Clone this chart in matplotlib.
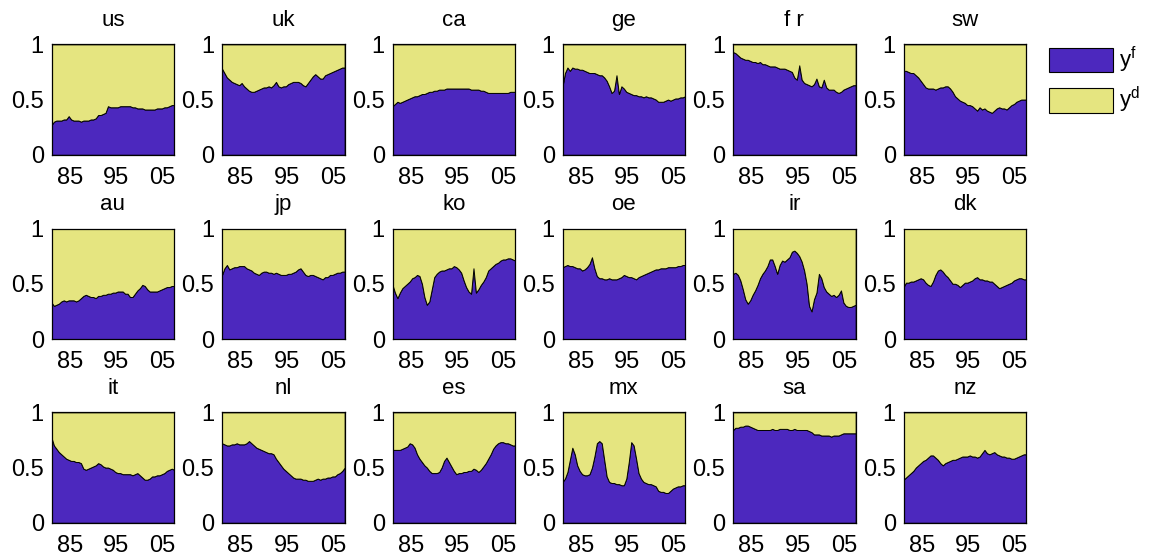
#!/usr/bin/env python3
"""
Foreign vs domestic shares (y^f / y^d) by country, stacked area panels.
"""
import matplotlib
matplotlib.use("Agg")
import matplotlib.pyplot as plt
from matplotlib.patches import Patch
import numpy as np

plt.rcParams["font.family"] = ["Liberation Sans", "DejaVu Sans"]
plt.rcParams["mathtext.fontset"] = "custom"
plt.rcParams["mathtext.rm"] = "Liberation Sans"

COL_F = "#4C28BE"
COL_D = "#E5E580"

# sample positions, 1981.0 .. 2007.5 (51 points)
YEARS = np.linspace(1981.0, 2007.5, 51)

COUNTRIES = ["us", "uk", "ca", "ge", "f r", "sw",
             "au", "jp", "ko", "oe", "ir", "dk",
             "it", "nl", "es", "mx", "sa", "nz"]

us = [.27, .30, .31, .31, .31, .32, .32, .35, .32, .31,
      .31, .31, .30, .31, .31, .31, .32, .32, .33, .36,
      .36, .37, .38, .44, .43, .43, .43, .43, .44, .44,
      .44, .44, .44, .43, .43, .42, .42, .42, .41, .41,
      .41, .41, .41, .42, .42, .42, .43, .43, .44, .45,
      .45]
uk = [.78, .74, .70, .68, .66, .65, .64, .63, .65, .62,
      .60, .58, .57, .57, .58, .59, .60, .61, .61, .62,
      .61, .63, .66, .62, .61, .62, .62, .64, .65, .66,
      .66, .66, .65, .63, .62, .65, .68, .71, .73, .71,
      .69, .69, .72, .73, .74, .75, .76, .77, .78, .79,
      .79]
ca = [.44, .46, .48, .47, .48, .49, .50, .51, .52, .53,
      .53, .54, .55, .55, .56, .57, .57, .58, .58, .59,
      .59, .59, .60, .60, .60, .60, .60, .60, .60, .60,
      .60, .60, .59, .59, .59, .59, .58, .58, .57, .56,
      .56, .56, .56, .56, .56, .56, .56, .56, .57, .57,
      .57]
ge = [.62, .74, .79, .76, .79, .78, .78, .77, .77, .76,
      .75, .74, .74, .74, .73, .72, .72, .70, .67, .62,
      .56, .58, .72, .55, .62, .60, .57, .56, .55, .54,
      .54, .53, .53, .52, .53, .52, .52, .51, .50, .48,
      .48, .48, .49, .50, .49, .50, .51, .51, .52, .52,
      .53]
fr = [.93, .92, .90, .88, .87, .86, .86, .85, .84, .84,
      .83, .84, .82, .82, .81, .80, .80, .80, .79, .78,
      .78, .78, .77, .76, .75, .70, .68, .81, .68, .65,
      .64, .63, .62, .64, .69, .62, .61, .68, .61, .59,
      .59, .59, .57, .56, .57, .59, .60, .61, .62, .63,
      .63]
sw = [.76, .76, .75, .74, .74, .72, .70, .67, .64, .61,
      .60, .60, .60, .59, .60, .61, .61, .62, .62, .60,
      .57, .53, .51, .49, .48, .47, .45, .45, .44, .42,
      .40, .43, .41, .42, .40, .39, .38, .40, .42, .43,
      .42, .42, .41, .43, .45, .46, .48, .49, .50, .50,
      .50]
au = [.33, .30, .31, .32, .34, .35, .34, .35, .35, .35,
      .34, .35, .37, .39, .40, .39, .38, .38, .37, .39,
      .39, .40, .40, .41, .41, .42, .42, .43, .43, .43,
      .41, .41, .38, .38, .41, .44, .46, .49, .48, .45,
      .43, .43, .43, .43, .44, .45, .46, .47, .47, .48,
      .48]
jp = [.58, .64, .67, .63, .64, .65, .65, .66, .66, .66,
      .64, .63, .62, .60, .59, .58, .60, .61, .61, .60,
      .60, .59, .60, .59, .58, .58, .58, .59, .59, .60,
      .61, .63, .64, .61, .58, .57, .58, .58, .57, .56,
      .55, .54, .56, .56, .58, .58, .59, .60, .60, .61,
      .61]
ko = [.49, .42, .37, .42, .46, .48, .50, .52, .55, .56,
      .58, .57, .50, .38, .31, .34, .45, .56, .59, .61,
      .62, .62, .63, .64, .64, .66, .65, .63, .60, .53,
      .47, .43, .41, .64, .42, .45, .49, .52, .56, .62,
      .64, .66, .68, .69, .71, .72, .72, .73, .73, .72,
      .71]
oe = [.65, .66, .67, .66, .66, .65, .64, .64, .62, .63,
      .65, .68, .74, .64, .57, .55, .55, .54, .54, .55,
      .54, .54, .54, .55, .56, .58, .57, .56, .56, .55,
      .54, .56, .57, .58, .59, .60, .61, .62, .63, .63,
      .64, .64, .64, .65, .65, .65, .65, .66, .66, .67,
      .67]
ir = [.59, .60, .58, .53, .45, .36, .32, .35, .40, .44,
      .49, .55, .59, .62, .66, .72, .72, .66, .59, .67,
      .71, .70, .72, .74, .79, .80, .78, .75, .70, .62,
      .50, .30, .25, .36, .42, .59, .55, .47, .43, .41,
      .39, .40, .38, .40, .44, .33, .30, .29, .29, .30,
      .31]
dk = [.47, .51, .51, .52, .52, .53, .54, .55, .54, .51,
      .49, .48, .52, .58, .62, .63, .61, .58, .56, .53,
      .50, .50, .49, .47, .49, .51, .51, .52, .53, .55,
      .56, .54, .54, .53, .53, .52, .52, .50, .48, .46,
      .47, .48, .49, .50, .51, .53, .54, .55, .55, .54,
      .54]
it = [.77, .70, .67, .64, .62, .60, .58, .57, .56, .56,
      .55, .55, .54, .49, .48, .49, .50, .51, .52, .54,
      .53, .51, .50, .50, .49, .48, .46, .45, .45, .44,
      .44, .44, .44, .43, .44, .45, .43, .41, .39, .39,
      .40, .42, .42, .43, .43, .44, .45, .47, .48, .49,
      .48]
nl = [.72, .71, .70, .70, .71, .71, .72, .71, .71, .71,
      .72, .74, .72, .70, .68, .67, .66, .65, .64, .63,
      .63, .62, .58, .55, .52, .49, .47, .45, .43, .41,
      .40, .40, .40, .39, .39, .38, .38, .38, .39, .40,
      .39, .40, .40, .41, .41, .42, .42, .44, .45, .47,
      .50]
es = [.66, .66, .66, .66, .67, .68, .69, .72, .71, .68,
      .62, .58, .55, .52, .50, .47, .45, .45, .45, .46,
      .50, .56, .59, .55, .51, .47, .44, .45, .45, .46,
      .46, .47, .47, .49, .48, .46, .48, .51, .54, .58,
      .62, .67, .70, .72, .73, .73, .72, .72, .71, .70,
      .70]
mx = [.37, .40, .46, .57, .68, .62, .52, .47, .44, .43,
      .43, .44, .50, .60, .72, .74, .72, .57, .42, .37,
      .36, .36, .35, .35, .34, .34, .40, .55, .73, .70,
      .58, .45, .40, .37, .36, .35, .35, .34, .33, .29,
      .28, .28, .27, .27, .29, .31, .32, .33, .33, .34,
      .34]
sa = [.84, .86, .86, .87, .87, .88, .88, .87, .86, .85,
      .84, .84, .84, .84, .84, .84, .85, .84, .84, .85,
      .85, .85, .85, .84, .84, .85, .84, .84, .84, .84,
      .84, .83, .82, .80, .80, .80, .79, .79, .79, .79,
      .78, .79, .79, .79, .80, .81, .81, .81, .81, .81,
      .81]
nz = [.39, .41, .43, .45, .47, .50, .52, .54, .56, .57,
      .59, .61, .61, .59, .57, .54, .52, .54, .55, .56,
      .57, .57, .58, .59, .60, .60, .60, .61, .60, .60,
      .59, .60, .63, .66, .63, .62, .63, .64, .62, .61,
      .60, .60, .59, .59, .58, .58, .59, .60, .61, .62,
      .62]

SHARES = [us, uk, ca, ge, fr, sw, au, jp, ko, oe, ir, dk,
          it, nl, es, mx, sa, nz]

XTICKS = [1985, 1995, 2005]
XTICKLABELS = ["85", "95", "05"]
YTICKS = [0, 0.5, 1]
YTICKLABELS = ["0", "0.5", "1"]


def plot():
    W, H = 1149, 556
    fig = plt.figure(figsize=(W / 100, H / 100), dpi=100)

    # panel layout in pixels
    lefts = [51.5, 222, 392.5, 562.5, 733, 903.5]
    tops = [44.3, 228.5, 412.3]
    pw, ph = 122.7, 110.5

    for i, (name, yf) in enumerate(zip(COUNTRIES, SHARES)):
        r, c = divmod(i, 6)
        ax = fig.add_axes([lefts[c] / W, (H - tops[r] - ph) / H, pw / W, ph / H])
        yf = np.asarray(yf)
        ax.stackplot(YEARS, yf, 1 - yf, colors=[COL_F, COL_D],
                     edgecolor="black", linewidth=0.7)
        ax.set_xlim(1981, 2007.5)
        ax.set_ylim(0, 1)
        ax.set_xticks(XTICKS)
        ax.set_xticklabels(XTICKLABELS)
        ax.set_yticks(YTICKS)
        ax.set_yticklabels(YTICKLABELS)
        ax.tick_params(length=0, labelsize=17)
        ax.tick_params(axis="x", pad=9)
        ax.tick_params(axis="y", pad=5.5)
        for s in ax.spines.values():
            s.set_linewidth(0.9)
        ax.set_title(name, fontsize=16, pad=13)

    handles = [Patch(facecolor=COL_F, edgecolor="black", linewidth=0.8),
               Patch(facecolor=COL_D, edgecolor="black", linewidth=0.8)]
    fig.legend(handles, [r"$\mathrm{y^f}$", r"$\mathrm{y^d}$"],
               loc="upper left", bbox_to_anchor=(1049 / W, 1 - 45 / H),
               frameon=False, fontsize=16, borderpad=0, borderaxespad=0,
               handlelength=2.88, handleheight=1.35, handletextpad=0.27,
               labelspacing=0.45)

    plt.savefig("out.png", dpi=100)


if __name__ == "__main__":
    plot()
